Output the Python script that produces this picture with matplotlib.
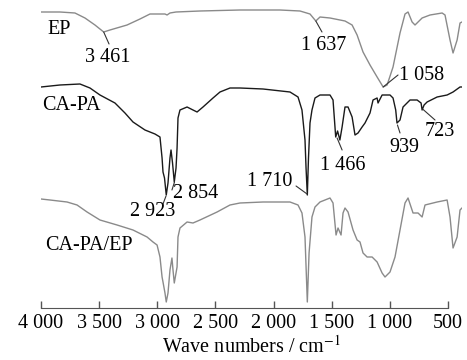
import matplotlib
matplotlib.use("Agg")
import matplotlib.pyplot as plt

plt.rcParams['font.family'] = ['Liberation Serif', 'DejaVu Serif']
plt.rcParams['mathtext.fontset'] = 'stix'

# FTIR spectra (transmittance, arbitrary units, stacked)
ep_wn = [4000, 3837, 3708, 3622, 3536, 3461, 3407, 3260, 3149, 3063, 2934, 2916,
         2891, 2839, 2633, 2289, 1945, 1773, 1687, 1637, 1601, 1515, 1386, 1325,
         1282, 1231, 1171, 1110, 1058, 1024, 973, 913, 870, 844, 809, 784, 723,
         655, 551, 526, 483, 457, 422, 397, 380]
ep_t = [296, 296, 295, 290, 283, 276, 278, 283, 289, 294, 294, 293,
        295, 296, 297, 298, 298, 297, 294, 287, 291, 290, 287, 283,
        273, 256, 243, 231, 221, 223, 241, 275, 294, 296, 286, 283, 290,
        293, 295, 293, 268, 255, 268, 285, 286]

capa_wn = [4000, 3837, 3665, 3579, 3493, 3364, 3278, 3209, 3106, 3020, 2977, 2959,
           2951, 2938, 2923, 2908, 2891, 2882, 2869, 2854, 2839, 2830, 2822, 2805,
           2744, 2693, 2658, 2607, 2521, 2461, 2375, 2289, 2091, 1859, 1790, 1756,
           1730, 1721, 1710, 1700, 1687, 1670, 1644, 1601, 1515, 1489, 1466, 1450,
           1430, 1411, 1386, 1360, 1325, 1300, 1274, 1239, 1214, 1171, 1145, 1110,
           1102, 1067, 999, 973, 950, 939, 913, 887, 827, 766, 732, 723, 706, 680,
           594, 508, 457, 397, 380]
capa_t = [221, 223, 224, 220, 213, 205, 195, 186, 178, 174, 171, 150,
          136, 130, 113, 125, 150, 158, 145, 126, 140, 160, 190, 198,
          201, 198, 196, 201, 210, 216, 220, 220, 219, 216, 211, 198,
          168, 140, 113, 150, 185, 198, 210, 213, 213, 208, 171, 177,
          168, 181, 201, 201, 191, 173, 175, 181, 185, 195, 208, 210,
          205, 213, 213, 210, 198, 185, 188, 201, 208, 208, 205, 198, 203, 206,
          211, 213, 216, 221, 221]

blend_wn = [4000, 3923, 3776, 3690, 3604, 3493, 3346, 3209, 3088, 3037, 3002, 2977,
            2959, 2951, 2934, 2923, 2908, 2891, 2874, 2865, 2854, 2830, 2822, 2805,
            2744, 2693, 2633, 2486, 2375, 2289, 2091, 1859, 1790, 1756, 1730, 1710,
            1695, 1670, 1644, 1601, 1558, 1515, 1489, 1463, 1446, 1420, 1403, 1386,
            1360, 1317, 1282, 1257, 1231, 1196, 1153, 1110, 1067, 1042, 999, 956,
            913, 870, 844, 801, 758, 723, 698, 594, 508, 483, 457, 422, 397, 380]
blend_t = [109, 108, 106, 103, 96, 88, 83, 78, 71, 66, 63, 51,
           31, 26, 15, 6, 15, 38, 50, 38, 25, 41, 71, 80,
           86, 85, 88, 96, 103, 105, 106, 106, 103, 95, 71, 6,
           55, 91, 101, 106, 108, 110, 105, 73, 80, 73, 95, 100,
           96, 78, 68, 66, 55, 51, 51, 46, 35, 31, 36, 51,
           78, 105, 110, 95, 95, 91, 103, 106, 108, 91, 60, 71, 98, 100]

# label text, text position, leader line (peak -> end)
peak_labels = ['3 461', '1 637', '1 058', '2 923', '2 854', '1 710', '1 466', '939', '723']
label_xy = [(3424, 251), (1566, 263), (724, 232), (3037, 96), (2667, 115),
            (2031, 126), (1403, 143), (878, 161), (569, 176)]
leader_from = [(3461, 276), (1637, 287), (1058, 221), (2925, 112), (2852, 126),
               (1712, 114), (1454, 170), (935, 183), (719, 199)]
leader_to = [(3415, 264), (1584, 276), (930, 233), (2951, 104), (2874, 118),
             (1807, 122), (1411, 158), (913, 175), (612, 188)]

fig = plt.figure(figsize=(4.67, 3.6), dpi=100)
ax = fig.add_axes([41 / 467, 52 / 360, 421 / 467, 308 / 360])

ax.plot(ep_wn, ep_t, color='#8a8a8a', lw=1.0)
ax.plot(capa_wn, capa_t, color='#1a1a1a', lw=1.0)
ax.plot(blend_wn, blend_t, color='#8a8a8a', lw=1.0)

fs = 14.5
ax.text(3948, 278, 'EP', fontsize=fs, ha='left', va='center')
ax.text(3991, 202, 'CA-PA', fontsize=fs, ha='left', va='center')
ax.text(3966, 62, 'CA-PA/EP', fontsize=fs, ha='left', va='center')

for lab, xy, p0, p1 in zip(peak_labels, label_xy, leader_from, leader_to):
    ax.text(xy[0], xy[1], lab, fontsize=fs, ha='center', va='center')
    ax.annotate('', xy=p0, xytext=p1,
                arrowprops=dict(arrowstyle='-', color='#333333', lw=0.8,
                                shrinkA=0, shrinkB=0))

ax.set_xlim(4000, 380)
ax.set_ylim(0, 308)
for s in ['left', 'right', 'top']:
    ax.spines[s].set_visible(False)
ax.spines['bottom'].set_bounds(4000, 500)
ax.spines['bottom'].set_color('#555555')
ax.set_yticks([])
ax.set_xticks([4000, 3500, 3000, 2500, 2000, 1500, 1000, 500])
ax.set_xticklabels(['4 000', '3 500', '3 000', '2 500', '2 000', '1 500', '1 000', '500'])
ax.tick_params(axis='x', direction='in', length=5, width=1, color='#555555',
               labelsize=fs, pad=4)
ax.set_xlabel('Wave numbers / cm$^{-1}$', fontsize=fs, labelpad=2)
ax.patch.set_alpha(0)

fig.savefig('out.png', dpi=100)
